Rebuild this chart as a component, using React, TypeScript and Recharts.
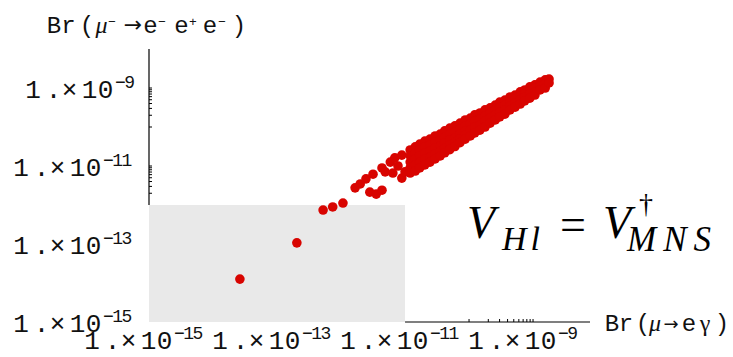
import React from 'react';
import { ScatterChart, Scatter, XAxis, YAxis, ReferenceArea, ReferenceLine } from 'recharts';

// ---------- data (log10 of branching ratios) ----------
// [log10 Br(mu -> e gamma), log10 Br(mu -> 3e)]
const isolatedPoints: [number, number][] = [
  [-13.58, -13.9], [-12.69, -12.97], [-12.28, -12.13], [-12.13, -12.05], [-11.97, -11.95],
];

const lowerCluster: [number, number][] = [
  [-11.78, -11.56], [-11.7, -11.46], [-11.61, -11.33], [-11.5, -11.21], [-11.36, -11.05],
  [-11.23, -10.9], [-11.16, -10.79], [-11.05, -10.72], [-11.55, -11.67], [-11.45, -11.72],
  [-11.36, -11.62], [-11.31, -11.15], [-11.19, -11.18], [-11.05, -11.31], [-11.0, -11.15],
  [-11.11, -11.0],
];

const mainBand: [number, number][] = [
  [-10.92, -10.59], [-10.92, -10.74], [-10.92, -10.9], [-10.92, -11.05], [-10.92, -11.18],
  [-10.84, -10.51], [-10.84, -10.67], [-10.84, -10.82], [-10.84, -10.97], [-10.84, -11.13],
  [-10.77, -10.44], [-10.77, -10.59], [-10.77, -10.74], [-10.77, -10.9], [-10.77, -11.05],
  [-10.69, -10.36], [-10.69, -10.51], [-10.69, -10.67], [-10.69, -10.82], [-10.69, -10.97],
  [-10.61, -10.31], [-10.61, -10.46], [-10.61, -10.62], [-10.61, -10.77], [-10.61, -10.9],
  [-10.53, -10.23], [-10.53, -10.38], [-10.53, -10.54], [-10.53, -10.69], [-10.53, -10.82],
  [-10.45, -10.18], [-10.45, -10.33], [-10.45, -10.49], [-10.45, -10.62], [-10.45, -10.74],
  [-10.38, -10.1], [-10.38, -10.26], [-10.38, -10.41], [-10.38, -10.54], [-10.38, -10.66],
  [-10.3, -10.03], [-10.3, -10.18], [-10.3, -10.33], [-10.3, -10.46], [-10.3, -10.58],
  [-10.22, -9.97], [-10.22, -10.13], [-10.22, -10.28], [-10.22, -10.4], [-10.22, -10.5],
  [-10.14, -9.9], [-10.14, -10.05], [-10.14, -10.18], [-10.14, -10.3], [-10.14, -10.4],
  [-10.06, -9.82], [-10.06, -9.97], [-10.06, -10.1], [-10.06, -10.21], [-10.06, -10.31],
  [-9.98, -9.77], [-9.98, -9.92], [-9.98, -10.08], [-9.98, -10.23],
  [-9.91, -9.69], [-9.91, -9.85], [-9.91, -10.0], [-9.91, -10.15],
  [-9.83, -9.64], [-9.83, -9.79], [-9.83, -9.95], [-9.83, -10.08],
  [-9.75, -9.56], [-9.75, -9.72], [-9.75, -9.85], [-9.75, -10.0],
  [-9.67, -9.51], [-9.67, -9.64], [-9.67, -9.77], [-9.67, -9.9],
  [-9.59, -9.44], [-9.59, -9.56], [-9.59, -9.69], [-9.59, -9.82],
  [-9.52, -9.36], [-9.52, -9.49], [-9.52, -9.62], [-9.52, -9.74],
  [-9.44, -9.31], [-9.44, -9.44], [-9.44, -9.56], [-9.44, -9.67],
  [-9.36, -9.23], [-9.36, -9.36], [-9.36, -9.46], [-9.36, -9.56],
  [-9.28, -9.18], [-9.28, -9.28], [-9.28, -9.38], [-9.28, -9.49],
  [-9.2, -9.1], [-9.2, -9.21], [-9.2, -9.31], [-9.2, -9.41],
  [-9.13, -9.05], [-9.13, -9.15], [-9.13, -9.23], [-9.13, -9.33],
  [-9.05, -8.97], [-9.05, -9.08], [-9.05, -9.15], [-9.05, -9.26],
  [-8.97, -8.92], [-8.97, -9.0], [-8.97, -9.1], [-8.97, -9.18],
  [-8.89, -8.85], [-8.89, -8.95], [-8.89, -9.05],
  [-8.81, -8.79], [-8.81, -8.9], [-8.81, -9.0],
  [-8.75, -8.77], [-8.75, -8.87],
];

// ---------- axes ----------
const X_DOMAIN: [number, number] = [1e-15, 7.76e-9];
const Y_DOMAIN: [number, number] = [1e-15, 1e-8];
const X_LABEL_EXPONENTS = [-15, -13, -11, -9];
const Y_LABEL_EXPONENTS = [-15, -13, -11, -9];
const X_TICK_MARKS = [1e-10, 2e-10, 3e-10, 4e-10, 5e-10, 6e-10, 7e-10, 8e-10, 9e-10, 1e-9];
const Y_TICK_MARKS = [
  2e-12, 3e-12, 4e-12, 5e-12, 6e-12, 7e-12, 8e-12, 9e-12, 1e-11,
  1e-10, 2e-10, 3e-10, 4e-10, 5e-10, 6e-10, 7e-10, 8e-10, 9e-10, 1e-9,
];
const ALLOWED = { x1: 1e-15, x2: 1e-11, y1: 1e-15, y2: 1e-12 };

const RED = '#d80400';
const GREY = '#e9e9e9';
const MONO = '"Liberation Mono", "Courier New", monospace';
const SERIF = '"Liberation Serif", "Times New Roman", serif';

const points = [...isolatedPoints, ...lowerCluster, ...mainBand].map(([ex, ey]) => ({
  x: Math.pow(10, ex),
  y: Math.pow(10, ey),
}));

const uniqSorted = (arr: number[]) =>
  arr
    .slice()
    .sort((a, b) => a - b)
    .filter((v, i, a) => i === 0 || Math.abs(Math.log10(v) - Math.log10(a[i - 1])) > 1e-9);

const xTicks = uniqSorted([...X_LABEL_EXPONENTS.map((e) => Math.pow(10, e)), ...X_TICK_MARKS]);
const yTicks = uniqSorted([...Y_LABEL_EXPONENTS.map((e) => Math.pow(10, e)), ...Y_TICK_MARKS]);

const same = (a: number, b: number) => Math.abs(Math.log10(a) - Math.log10(b)) < 1e-6;
const findExp = (v: number, exps: number[]) => {
  const e = exps.find((k) => same(v, Math.pow(10, k)));
  return e === undefined ? null : e;
};

const PLOT_LEFT = 149;
const PLOT_BOTTOM = 322;

const MAIN_GLYPHS: [string, number][] = [
  ['1', 6], ['.', 26.5], ['×', 42.5], ['1', 62.5], ['0', 78.5],
];

const labelWidth = (exp: number) => (String(Math.abs(exp)).length === 2 ? 118 : 106);

const PowerLabel = ({ exp, left, baseline }: { exp: number; left: number; baseline: number }) => (
  <g fill="#111">
    {MAIN_GLYPHS.map(([ch, dx], i) => (
      <text key={i} x={left + dx} y={baseline} textAnchor="middle" fontFamily={MONO} fontSize={26}>
        {ch}
      </text>
    ))}
    <text x={left + 88} y={baseline - 10} fontFamily={MONO} fontSize={18} letterSpacing={-1.5}>
      {'−' + String(Math.abs(exp))}
    </text>
  </g>
);

const XTick = (props: any) => {
  const { x, payload } = props;
  const v = payload.value;
  const mark = X_TICK_MARKS.some((m) => same(m, v));
  const e = findExp(v, X_LABEL_EXPONENTS);
  return (
    <g>
      {mark && <line x1={x} x2={x} y1={PLOT_BOTTOM} y2={PLOT_BOTTOM - 3} stroke="#000" strokeWidth={1} />}
      {e !== null && <PowerLabel exp={e} left={x - 63} baseline={349} />}
    </g>
  );
};

const YTick = (props: any) => {
  const { y, payload } = props;
  const v = payload.value;
  const mark = Y_TICK_MARKS.some((m) => same(m, v));
  const e = findExp(v, Y_LABEL_EXPONENTS);
  return (
    <g>
      {mark && <line x1={PLOT_LEFT} x2={PLOT_LEFT + 3} y1={y} y2={y} stroke="#000" strokeWidth={1} />}
      {e !== null && <PowerLabel exp={e} left={133 - labelWidth(e)} baseline={y + 10} />}
    </g>
  );
};

const Dot = (p: any) => <circle cx={p.cx} cy={p.cy} r={4.8} fill={RED} />;

const Glyph = ({ ch, x, y, size = 24, family = MONO, italic = false }: any) => (
  <text x={x} y={y} textAnchor="middle" fontFamily={family} fontSize={size} fontStyle={italic ? 'italic' : 'normal'} fill="#111">
    {ch}
  </text>
);

export default function App() {
  return (
    <div style={{ position: 'absolute', left: 0, top: 0, width: 733, height: 357, background: '#fff' }}>
      <ScatterChart width={733} height={357} margin={{ top: 49, right: 143, bottom: 34, left: 148 }}>
        <XAxis
          type="number"
          dataKey="x"
          scale="log"
          domain={X_DOMAIN}
          allowDataOverflow
          ticks={xTicks}
          interval={0}
          tick={XTick}
          tickLine={false}
          axisLine={false}
          tickSize={0}
          tickMargin={0}
          height={1}
        />
        <YAxis
          type="number"
          dataKey="y"
          scale="log"
          domain={Y_DOMAIN}
          allowDataOverflow
          ticks={yTicks}
          interval={0}
          tick={YTick}
          tickLine={false}
          axisLine={false}
          tickSize={0}
          tickMargin={0}
          width={1}
        />
        <ReferenceArea
          x1={ALLOWED.x1}
          x2={ALLOWED.x2}
          y1={ALLOWED.y1}
          y2={ALLOWED.y2}
          fill={GREY}
          fillOpacity={1}
          stroke="none"
          ifOverflow="visible"
        />
        <ReferenceLine
          segment={[{ x: ALLOWED.x2, y: Y_DOMAIN[0] }, { x: X_DOMAIN[1], y: Y_DOMAIN[0] }]}
          stroke="#000"
          strokeWidth={1.2}
          ifOverflow="visible"
        />
        <ReferenceLine
          segment={[{ x: X_DOMAIN[0], y: ALLOWED.y2 }, { x: X_DOMAIN[0], y: Y_DOMAIN[1] }]}
          stroke="#000"
          strokeWidth={1.2}
          ifOverflow="visible"
        />
        <Scatter data={points} fill={RED} shape={Dot} isAnimationActive={false} />
      </ScatterChart>
      <svg width={733} height={357} style={{ position: 'absolute', left: 0, top: 0, pointerEvents: 'none' }}>
        {/* y-axis title: Br(mu- -> e- e+ e-) */}
        <Glyph ch="B" x={54} y={33} />
        <Glyph ch="r" x={68.5} y={33} />
        <Glyph ch="(" x={87} y={33} />
        <Glyph ch="μ" x={101.5} y={33} family={SERIF} italic />
        <Glyph ch="−" x={112} y={26} size={13} />
        <Glyph ch="→" x={133} y={32} size={22} family='"DejaVu Sans", sans-serif' />
        <Glyph ch="e" x={150.5} y={33} />
        <Glyph ch="−" x={162} y={26} size={13} />
        <Glyph ch="e" x={181.5} y={33} />
        <Glyph ch="+" x={193} y={26} size={13} />
        <Glyph ch="e" x={210} y={33} />
        <Glyph ch="−" x={222} y={26} size={13} />
        <Glyph ch=")" x={239} y={33} />
        {/* x-axis title: Br(mu -> e gamma) */}
        <Glyph ch="B" x={612} y={331} />
        <Glyph ch="r" x={626} y={331} />
        <Glyph ch="(" x={643} y={331} />
        <Glyph ch="μ" x={655} y={331} family={SERIF} italic />
        <Glyph ch="→" x={671} y={330} size={18} family='"DejaVu Sans", sans-serif' />
        <Glyph ch="e" x={689} y={331} />
        <Glyph ch="γ" x={705} y={331} family={SERIF} />
        <Glyph ch=")" x={722} y={331} />
        {/* formula */}
        <text x={467} y={238} fontFamily={SERIF} fontStyle="italic" fontSize={46} fill="#000">V</text>
        <text x={502} y={250} fontFamily={SERIF} fontStyle="italic" fontSize={34} fill="#000" textLength={38} lengthAdjust="spacing">Hl</text>
        <text x={573} y={240} textAnchor="middle" fontFamily={SERIF} fontSize={46} fill="#000">=</text>
        <text x={603} y={238} fontFamily={SERIF} fontStyle="italic" fontSize={46} fill="#000">V</text>
        <text x={639} y={213} fontFamily={SERIF} fontSize={28} fill="#000">†</text>
        <text x={627} y={251} fontFamily={SERIF} fontStyle="italic" fontSize={35} fill="#000" textLength={84} lengthAdjust="spacing">MNS</text>
      </svg>
    </div>
  );
}
